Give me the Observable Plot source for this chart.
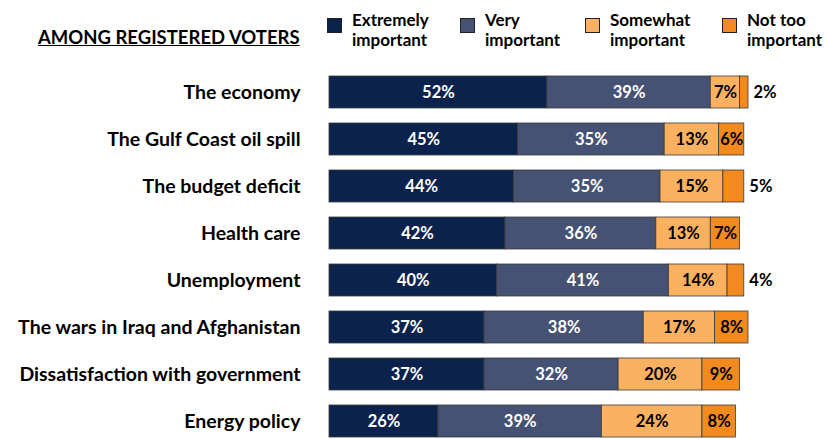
<!DOCTYPE html>
<html><head><meta charset="utf-8">
<script src="https://cdn.jsdelivr.net/npm/d3@7"></script>
<script src="https://cdn.jsdelivr.net/npm/@observablehq/plot@0.6"></script>
<style>
body{margin:0;background:#fff;font-family:Lato,"Open Sans",sans-serif;}
#wrap{position:relative;width:828px;height:439px;overflow:hidden;}
#header{position:absolute;left:38px;top:26px;font-size:18.5px;font-weight:bold;text-decoration:underline;color:#000;white-space:nowrap;}
.leg{position:absolute;top:10px;display:flex;align-items:flex-start;font-size:17px;font-weight:bold;line-height:20px;color:#000;}
.sw{width:13px;height:13px;border:1px solid #222;margin-top:8px;margin-right:10px;flex:none;}
#chart{position:absolute;left:0;top:0;}
</style></head>
<body><div id="wrap"><div id="header"></div><div id="legend"></div><div id="chart"></div></div>
<script>
const title = "AMONG REGISTERED VOTERS";
const categories = ["The economy","The Gulf Coast oil spill","The budget deficit","Health care","Unemployment","The wars in Iraq and Afghanistan","Dissatisfaction with government","Energy policy"];
const levels = ["Extremely important","Very important","Somewhat important","Not too important"];
const legendLines = [["Extremely","important"],["Very","important"],["Somewhat","important"],["Not too","important"]];
const colors = ["#0b234c","#465273","#fbb15f","#f38a1e"];
const extremely = [52,45,44,42,40,37,37,26];
const very = [39,35,35,36,41,38,32,39];
const somewhat = [7,13,15,13,14,17,20,24];
const notToo = [2,6,5,7,4,8,9,8];

const series = [extremely, very, somewhat, notToo];
const data = [];
categories.forEach((c,i)=>levels.forEach((l,j)=>data.push({category:c, level:l, value:series[j][i], dark:j<2})));
const totals = categories.map((c,i)=>({category:c, total:d3.sum(series,s=>s[i]), small:notToo[i]}));

document.getElementById("header").textContent = title;
const legX = [327, 460, 585, 722];
const legend = document.getElementById("legend");
levels.forEach((l,j)=>{
  const d = document.createElement("div"); d.className="leg"; d.style.left=legX[j]+"px";
  d.innerHTML = `<div class="sw" style="background:${colors[j]}"></div><div>${legendLines[j][0]}<br>${legendLines[j][1]}</div>`;
  legend.appendChild(d);
});

const plot = Plot.plot({
  width: 828, height: 439,
  marginLeft: 0, marginRight: 0, marginTop: 0, marginBottom: 0,
  style: {fontFamily: "Lato, 'Open Sans', sans-serif", color: "#000", background: "transparent"},
  x: {domain: [0, 100], range: [329, 748], axis: null},
  y: {domain: categories, range: [66, 448], paddingInner: 0.31, paddingOuter: 0.155, axis: null},
  color: {domain: levels, range: colors},
  marks: [
    Plot.barX(data, Plot.stackX({x: "value", y: "category", fill: "level", order: levels, stroke: "#3a3a3a", strokeWidth: 0.8})),
    Plot.text(data, Plot.stackX({x: "value", y: "category", order: levels, text: d => d.value >= 6 ? d.value + "%" : "", fill: d => d.dark ? "#fff" : "#000", fontSize: 16.5, fontWeight: "bold"})),
    Plot.text(totals, {x: "total", y: "category", text: d => d.small < 6 ? d.small + "%" : "", dx: 5, textAnchor: "start", fontSize: 16.5, fontWeight: "bold", fill: "#000"}),
    Plot.axisY({tickSize: 0, tickPadding: 29, x: 0, anchor: "left", fontSize: 19.5, fontWeight: "bold", label: null, textAnchor: "end"})
  ]
});
document.getElementById("chart").appendChild(plot);
</script></body></html>
